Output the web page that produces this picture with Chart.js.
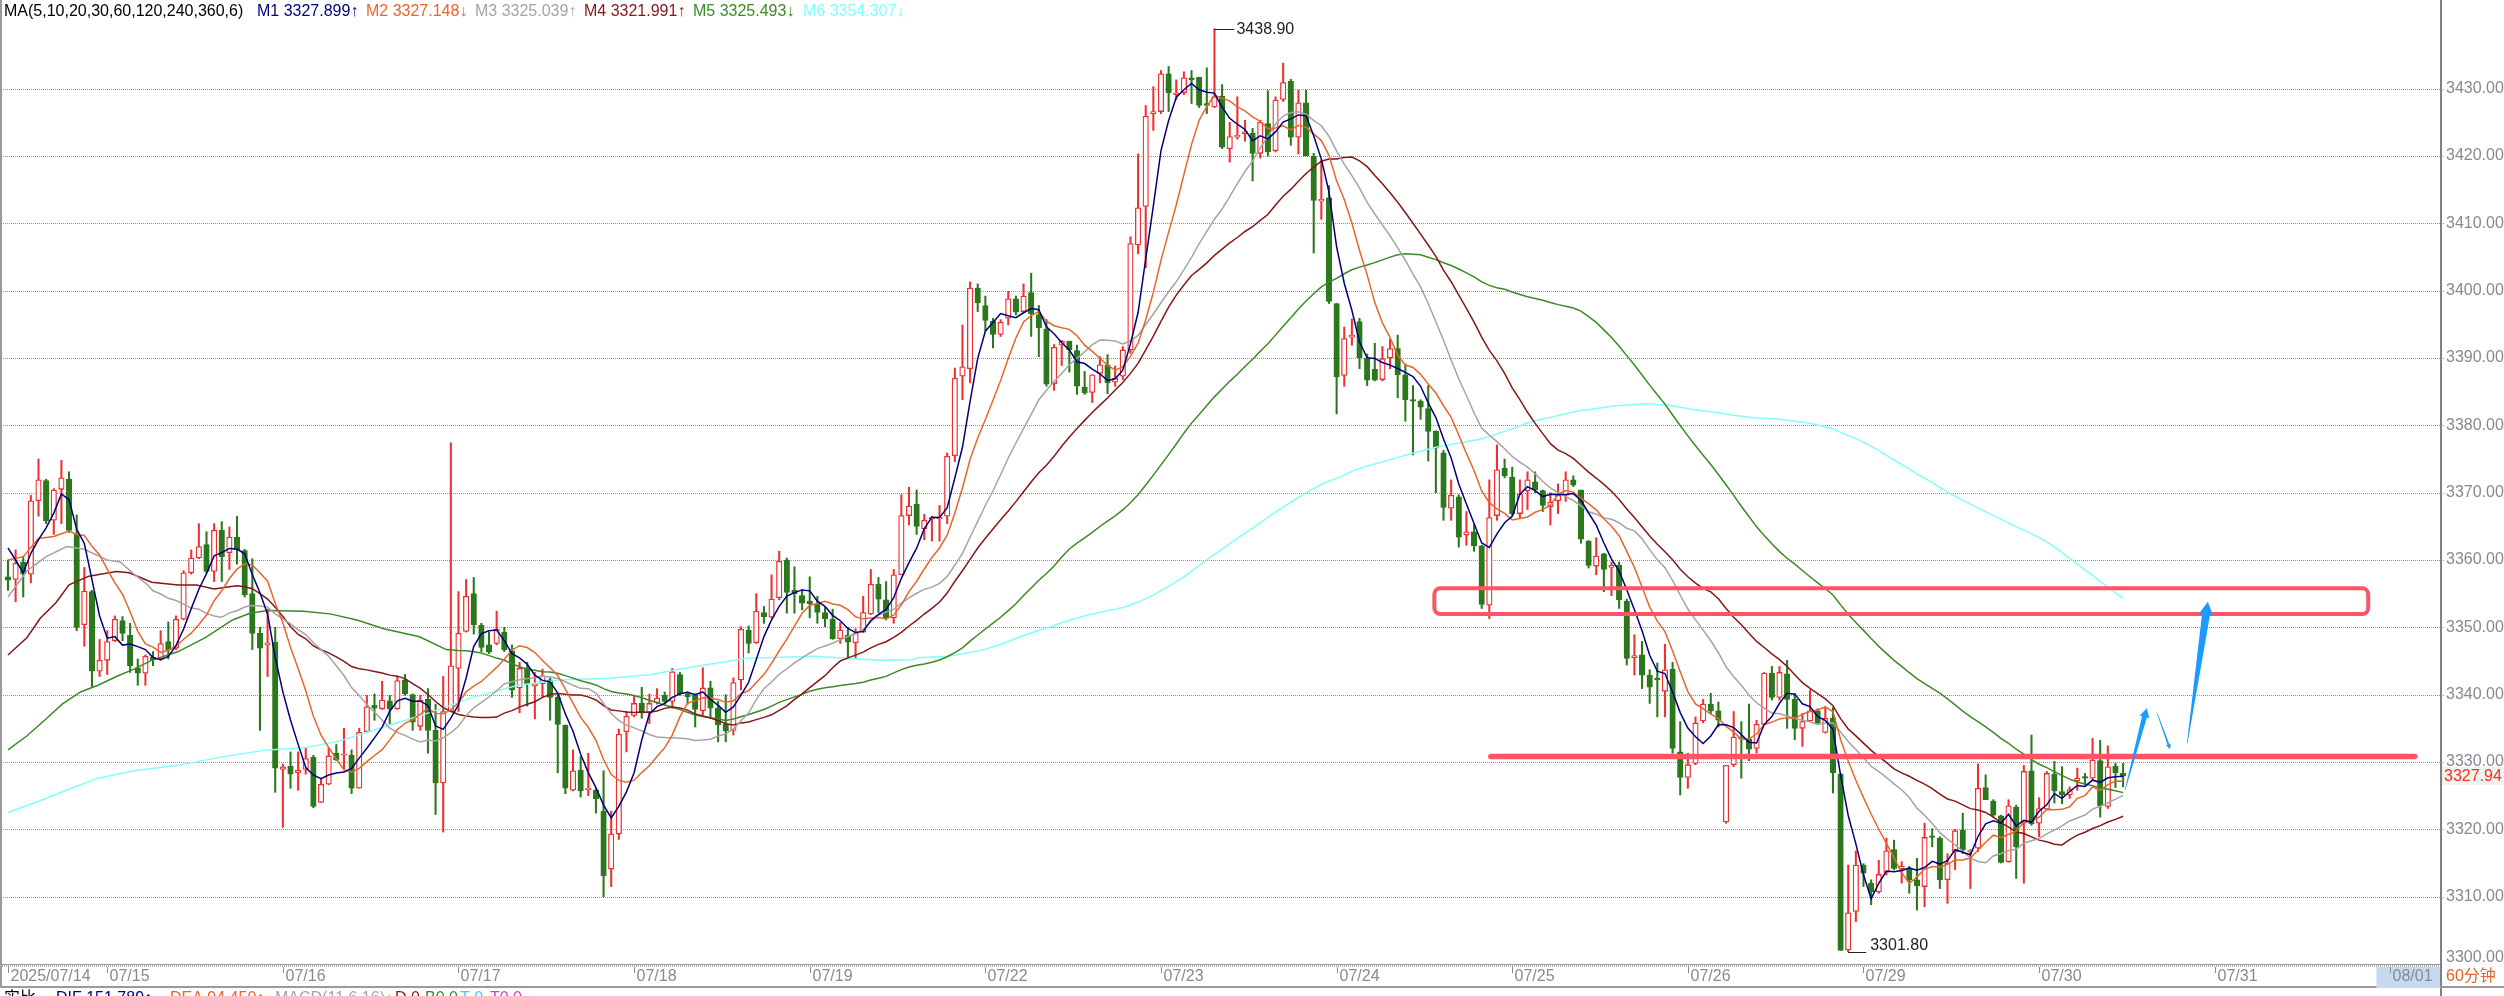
<!DOCTYPE html>
<html>
<head>
<meta charset="utf-8">
<script src="https://cdn.jsdelivr.net/npm/chart.js@4.4.1/dist/chart.umd.min.js"></script>
<style>
  html, body { margin: 0; padding: 0; background: #fff; }
  canvas { display: block; }
</style>
</head>
<body>
<canvas id="kline" width="2504" height="996"></canvas>
<script>
// 60-minute bars, 2025/07/14 .. 2025/07/30
const opens = [
  3357.5, 3357.1, 3359.7, 3357.9, 3368.8, 3371.8, 3365.9, 3370.5, 3372.0, 3363.8,
  3350.4, 3355.3, 3343.5, 3345.1, 3348.0, 3351.0, 3348.8, 3344.0, 3343.2, 3345.6,
  3345.3, 3347.9, 3346.9, 3351.2, 3358.1, 3360.3, 3362.3, 3358.3, 3364.4, 3361.1,
  3363.4, 3361.4, 3355.0, 3349.1, 3347.4, 3347.8, 3328.9, 3329.4, 3328.4, 3328.9,
  3330.7, 3324.0, 3326.7, 3331.3, 3331.0, 3331.0, 3326.1, 3334.5, 3338.4, 3337.9,
  3339.1, 3337.9, 3342.2, 3340.0, 3335.3, 3339.3, 3334.7, 3326.9, 3337.5, 3343.9,
  3349.4, 3355.0, 3350.3, 3347.4, 3347.6, 3349.3, 3346.5, 3341.0, 3344.0, 3341.3,
  3341.6, 3342.2, 3339.6, 3335.5, 3325.8, 3328.8, 3325.9, 3325.8, 3322.7, 3314.1,
  3319.3, 3334.5, 3336.9, 3338.7, 3337.4, 3338.8, 3339.9, 3339.0, 3343.0, 3340.1,
  3339.9, 3337.6, 3341.0, 3338.0, 3335.6, 3334.7, 3342.2, 3349.6, 3347.7, 3352.2,
  3351.5, 3354.4, 3360.0, 3355.5, 3354.7, 3353.9, 3353.5, 3352.2, 3351.2, 3348.3,
  3348.8, 3347.7, 3349.3, 3352.0, 3356.4, 3354.1, 3351.4, 3357.8, 3366.6, 3368.3,
  3364.6, 3366.1, 3366.1, 3366.5, 3375.5, 3387.3, 3388.4, 3400.4, 3397.8, 3395.5,
  3393.5, 3395.9, 3398.8, 3396.9, 3399.7, 3396.4, 3394.3, 3386.2, 3391.9, 3392.5,
  3391.1, 3385.7, 3384.9, 3387.7, 3389.0, 3386.4, 3387.3, 3391.2, 3406.8, 3412.5,
  3426.3, 3426.6, 3432.2, 3429.1, 3429.4, 3431.6, 3431.7, 3427.8, 3427.3, 3428.9,
  3421.1, 3422.8, 3423.3, 3423.4, 3420.4, 3424.8, 3420.8, 3428.4, 3431.1, 3422.8,
  3427.9, 3420.0, 3413.3, 3413.8, 3398.1, 3387.4, 3393.1, 3395.4, 3390.0, 3388.3,
  3386.8, 3390.0, 3391.4, 3387.5, 3383.8, 3383.6, 3382.5, 3379.1, 3375.9, 3367.7,
  3369.4, 3363.7, 3364.2, 3362.1, 3353.3, 3366.6, 3373.6, 3372.3, 3366.9, 3370.3,
  3371.6, 3370.3, 3367.9, 3368.8, 3369.6, 3371.9, 3370.4, 3362.8, 3359.1, 3360.9,
  3358.9, 3359.2, 3353.9, 3345.5, 3345.9, 3342.9, 3342.3, 3340.5, 3343.8, 3331.5,
  3327.7, 3329.8, 3336.1, 3338.6, 3337.6, 3321.1, 3329.6, 3333.5, 3333.4, 3332.0,
  3335.6, 3343.2, 3339.6, 3343.1, 3339.3, 3335.0, 3336.1, 3337.6, 3334.4, 3336.5,
  3328.2, 3302.1, 3307.8, 3314.7, 3312.0, 3310.7, 3313.6, 3317.0, 3314.1, 3314.3,
  3312.5, 3311.5, 3318.9, 3318.7, 3312.5, 3316.7, 3319.9, 3316.7, 3317.2, 3326.2,
  3324.2, 3322.0, 3315.2, 3323.3, 3320.9, 3328.7, 3320.9, 3323.0, 3328.2, 3325.6,
  3325.1, 3327.2, 3327.7, 3327.6, 3330.2, 3323.4, 3329.4, 3328.3
];
const highs = [
  3360.0, 3361.5, 3360.5, 3369.6, 3375.0, 3372.0, 3370.6, 3374.8, 3373.1, 3366.7,
  3358.9, 3355.5, 3348.2, 3349.5, 3351.7, 3351.6, 3350.6, 3345.3, 3345.9, 3346.4,
  3349.5, 3350.8, 3351.7, 3358.4, 3361.5, 3365.4, 3364.2, 3365.4, 3365.7, 3364.9,
  3366.5, 3361.6, 3360.2, 3350.0, 3352.7, 3350.0, 3329.7, 3331.5, 3331.5, 3332.1,
  3331.0, 3327.5, 3332.1, 3332.6, 3335.0, 3331.8, 3335.0, 3339.9, 3340.1, 3342.0,
  3339.9, 3342.7, 3343.0, 3340.1, 3339.9, 3340.9, 3338.6, 3342.7, 3377.4, 3355.3,
  3357.1, 3357.4, 3350.6, 3349.3, 3352.4, 3350.0, 3347.4, 3344.8, 3344.8, 3343.3,
  3343.8, 3342.5, 3339.9, 3335.5, 3331.8, 3330.8, 3331.3, 3326.1, 3328.7, 3322.7,
  3334.9, 3337.5, 3339.9, 3341.1, 3340.1, 3340.9, 3340.4, 3343.9, 3343.3, 3340.4,
  3340.1, 3344.0, 3342.0, 3339.0, 3340.0, 3342.5, 3350.1, 3350.2, 3355.0, 3353.1,
  3357.8, 3361.3, 3360.3, 3359.0, 3355.6, 3357.5, 3354.6, 3353.1, 3352.7, 3350.7,
  3350.0, 3349.8, 3354.6, 3358.6, 3357.4, 3356.8, 3358.6, 3369.7, 3370.8, 3370.4,
  3366.8, 3366.5, 3368.1, 3375.9, 3388.5, 3394.9, 3401.3, 3401.0, 3399.2, 3395.9,
  3395.7, 3399.9, 3399.2, 3401.0, 3402.6, 3397.8, 3395.7, 3392.0, 3392.6, 3392.5,
  3391.9, 3388.0, 3387.5, 3390.2, 3390.5, 3388.8, 3391.7, 3408.0, 3420.3, 3427.5,
  3430.3, 3432.7, 3433.3, 3431.3, 3432.5, 3432.7, 3431.7, 3433.1, 3438.9, 3430.6,
  3425.0, 3428.8, 3425.3, 3424.1, 3425.3, 3429.7, 3428.8, 3433.8, 3431.4, 3429.8,
  3429.8, 3420.4, 3419.4, 3415.6, 3398.1, 3394.6, 3395.8, 3395.9, 3390.6, 3392.2,
  3391.7, 3392.8, 3393.4, 3389.1, 3385.9, 3383.8, 3385.9, 3379.2, 3376.3, 3371.9,
  3369.7, 3367.2, 3365.3, 3362.2, 3371.9, 3377.1, 3375.0, 3373.8, 3371.9, 3373.1,
  3373.1, 3370.4, 3370.0, 3371.3, 3373.1, 3372.5, 3370.4, 3362.9, 3363.3, 3361.0,
  3359.7, 3359.7, 3354.2, 3348.9, 3347.9, 3343.7, 3344.7, 3347.5, 3344.8, 3336.0,
  3331.3, 3336.7, 3339.3, 3340.2, 3338.9, 3329.5, 3337.5, 3336.0, 3338.6, 3336.2,
  3343.3, 3344.2, 3344.2, 3345.1, 3340.2, 3337.2, 3340.7, 3337.9, 3338.2, 3338.1,
  3328.3, 3314.7, 3316.8, 3314.9, 3312.5, 3315.4, 3318.7, 3318.4, 3315.2, 3314.5,
  3315.7, 3320.9, 3320.1, 3318.9, 3316.4, 3320.0, 3322.4, 3317.0, 3329.7, 3328.1,
  3324.4, 3322.1, 3324.4, 3323.6, 3329.5, 3334.0, 3324.7, 3328.6, 3330.1, 3329.3,
  3326.3, 3329.1, 3328.3, 3333.5, 3333.2, 3332.4, 3329.8, 3329.8
];
const lows = [
  3355.5, 3353.8, 3354.5, 3356.6, 3366.5, 3365.4, 3363.8, 3365.4, 3364.1, 3349.5,
  3347.2, 3341.2, 3342.7, 3343.0, 3347.9, 3348.0, 3343.3, 3341.4, 3341.4, 3344.3,
  3345.1, 3345.3, 3346.7, 3351.1, 3357.9, 3360.2, 3358.1, 3356.8, 3356.8, 3358.6,
  3359.4, 3354.5, 3346.7, 3334.7, 3342.7, 3325.5, 3320.3, 3326.1, 3325.8, 3328.2,
  3323.2, 3324.0, 3326.6, 3330.2, 3329.0, 3325.3, 3326.1, 3334.4, 3336.2, 3337.8,
  3335.7, 3337.8, 3339.9, 3334.7, 3334.7, 3331.3, 3322.2, 3319.6, 3337.5, 3337.5,
  3349.3, 3349.0, 3346.4, 3346.1, 3347.4, 3346.4, 3339.6, 3337.3, 3338.3, 3336.4,
  3339.6, 3336.2, 3328.4, 3325.3, 3325.7, 3324.8, 3325.0, 3322.4, 3310.0, 3311.5,
  3318.5, 3331.5, 3336.7, 3336.5, 3335.7, 3338.6, 3338.6, 3338.0, 3339.9, 3338.6,
  3335.2, 3337.0, 3336.5, 3333.0, 3333.0, 3334.0, 3340.7, 3346.2, 3347.6, 3350.6,
  3351.4, 3354.1, 3352.1, 3352.1, 3352.6, 3351.4, 3350.6, 3350.1, 3348.2, 3347.6,
  3345.3, 3345.4, 3349.2, 3351.9, 3352.2, 3351.1, 3350.6, 3357.8, 3365.2, 3363.8,
  3363.0, 3362.8, 3362.8, 3365.4, 3374.6, 3383.8, 3386.3, 3396.9, 3394.0, 3391.5,
  3393.2, 3394.9, 3396.4, 3396.7, 3393.2, 3390.2, 3385.8, 3385.2, 3388.9, 3387.9,
  3384.6, 3384.6, 3383.4, 3386.3, 3384.7, 3385.8, 3386.8, 3390.7, 3405.5, 3403.4,
  3423.8, 3426.3, 3426.6, 3428.4, 3429.1, 3427.8, 3427.2, 3426.3, 3427.2, 3421.1,
  3419.1, 3422.5, 3422.2, 3416.3, 3419.7, 3420.0, 3420.6, 3428.1, 3421.6, 3420.3,
  3420.0, 3405.6, 3410.6, 3398.1, 3381.7, 3385.8, 3391.9, 3388.4, 3385.9, 3386.6,
  3386.6, 3388.4, 3384.1, 3380.6, 3375.6, 3380.9, 3374.7, 3370.0, 3365.9, 3365.9,
  3361.9, 3362.2, 3361.3, 3352.8, 3351.3, 3365.9, 3372.2, 3366.6, 3366.3, 3367.5,
  3370.0, 3367.2, 3365.2, 3366.9, 3368.7, 3370.9, 3362.5, 3358.8, 3357.8, 3355.3,
  3354.7, 3352.8, 3344.4, 3342.9, 3340.9, 3338.7, 3336.7, 3336.7, 3331.3, 3325.1,
  3326.1, 3329.6, 3335.8, 3337.2, 3335.2, 3320.9, 3329.3, 3327.6, 3330.2, 3331.3,
  3335.5, 3339.2, 3339.2, 3335.0, 3333.3, 3332.3, 3336.0, 3335.7, 3334.3, 3325.4,
  3302.0, 3301.8, 3306.3, 3311.5, 3308.8, 3310.5, 3313.2, 3314.0, 3312.0, 3310.5,
  3308.0, 3308.5, 3317.4, 3311.2, 3309.0, 3314.0, 3316.4, 3311.2, 3316.7, 3324.4,
  3321.9, 3315.0, 3315.1, 3312.7, 3312.0, 3320.6, 3318.9, 3322.9, 3323.9, 3323.8,
  3324.6, 3325.8, 3326.6, 3327.3, 3321.8, 3323.1, 3326.2, 3326.3
];
const closes = [
  3357.0, 3359.5, 3357.9, 3368.8, 3371.9, 3365.8, 3370.4, 3372.2, 3364.4, 3350.0,
  3355.4, 3343.5, 3345.1, 3347.9, 3351.2, 3349.1, 3344.3, 3343.2, 3345.7, 3345.2,
  3347.6, 3346.7, 3351.2, 3358.1, 3360.3, 3362.0, 3358.3, 3364.4, 3360.5, 3363.4,
  3361.5, 3354.8, 3349.1, 3346.9, 3347.7, 3329.1, 3329.3, 3328.2, 3328.8, 3330.5,
  3323.4, 3326.7, 3330.9, 3330.3, 3331.2, 3326.1, 3334.4, 3338.2, 3338.0, 3339.2,
  3337.9, 3342.1, 3340.1, 3335.9, 3339.2, 3334.7, 3326.9, 3337.5, 3344.3, 3349.1,
  3354.6, 3350.4, 3347.0, 3346.3, 3349.7, 3346.7, 3340.7, 3343.9, 3341.6, 3341.6,
  3342.8, 3339.6, 3335.6, 3326.1, 3328.7, 3325.7, 3326.0, 3324.5, 3313.1, 3319.3,
  3334.1, 3336.8, 3338.7, 3337.4, 3338.7, 3339.5, 3339.0, 3343.4, 3340.1, 3339.7,
  3337.8, 3341.0, 3338.0, 3335.5, 3334.6, 3341.8, 3349.7, 3347.6, 3352.4, 3351.6,
  3354.2, 3359.8, 3355.2, 3355.0, 3353.6, 3353.5, 3352.2, 3351.3, 3348.3, 3349.6,
  3347.8, 3349.1, 3352.2, 3356.4, 3354.2, 3351.4, 3357.8, 3366.6, 3368.0, 3365.0,
  3365.9, 3366.3, 3366.3, 3375.4, 3387.0, 3388.7, 3400.4, 3398.2, 3395.6, 3393.5,
  3395.3, 3398.8, 3396.8, 3399.2, 3396.6, 3394.5, 3386.1, 3391.6, 3392.5, 3391.2,
  3385.8, 3384.8, 3387.5, 3389.0, 3386.3, 3387.0, 3391.2, 3407.0, 3412.3, 3425.9,
  3426.6, 3432.2, 3429.4, 3429.4, 3431.6, 3431.3, 3427.5, 3427.5, 3428.8, 3421.3,
  3422.9, 3423.1, 3423.6, 3420.4, 3425.0, 3420.6, 3428.3, 3430.9, 3422.8, 3427.9,
  3420.0, 3413.4, 3413.6, 3398.4, 3387.2, 3392.9, 3393.4, 3390.0, 3386.7, 3386.7,
  3389.9, 3391.4, 3387.5, 3383.8, 3383.6, 3382.7, 3379.1, 3376.6, 3367.8, 3369.6,
  3363.4, 3364.2, 3362.1, 3353.4, 3366.3, 3373.4, 3372.5, 3366.9, 3369.8, 3371.9,
  3370.4, 3368.1, 3368.6, 3369.6, 3371.9, 3371.1, 3363.1, 3359.2, 3360.6, 3358.6,
  3359.2, 3354.1, 3345.4, 3345.8, 3342.9, 3341.1, 3342.2, 3343.7, 3332.0, 3327.7,
  3329.6, 3335.8, 3338.6, 3337.6, 3336.2, 3329.5, 3333.7, 3333.4, 3331.9, 3335.6,
  3343.2, 3339.6, 3343.3, 3339.3, 3335.0, 3336.0, 3337.6, 3335.8, 3336.5, 3328.4,
  3302.0, 3307.6, 3314.7, 3313.5, 3310.7, 3313.3, 3316.8, 3314.2, 3314.5, 3312.5,
  3311.6, 3318.8, 3318.8, 3312.5, 3315.0, 3319.8, 3316.9, 3316.9, 3326.1, 3324.4,
  3322.1, 3315.1, 3323.5, 3317.4, 3328.6, 3320.8, 3323.1, 3328.3, 3325.7, 3325.1,
  3325.9, 3327.6, 3327.6, 3330.3, 3323.5, 3329.3, 3328.4, 3327.94
];

// x-axis: bar index where each trading day starts
const dayTicks = [0, 13, 36, 59, 82, 105, 128, 151, 174, 197, 220, 243, 266, 289, 312];
const dayLabels = ['2025/07/14', '07/15', '07/16', '07/17', '07/18', '07/19', '07/22', '07/23',
                   '07/24', '07/25', '07/26', '07/29', '07/30', '07/31', '08/01'];
const priceTicks = [3300, 3310, 3320, 3330, 3340, 3350, 3360, 3370, 3380, 3390, 3400, 3410, 3420, 3430];

// start of each MA line before enough bars exist
const m1Head = [[0, 3361.8], [1, 3360.0], [2, 3358.1], [3, 3361.0]];
const m2Head = [[0, 3360.0], [2, 3360.5], [4, 3363.2], [6, 3363.5], [8, 3364.3]];
const m3Head = [[0, 3354.5], [2.5, 3358.4], [5, 3360.5], [7.7, 3362.0], [10, 3361.6], [13, 3360.0],
                [14.7, 3359.7], [16.5, 3357.9], [18.3, 3356.3]];
const m4Head = [[0, 3345.9], [2.5, 3348.5], [4.2, 3351.3], [6.3, 3353.7], [8, 3356.3], [10.6, 3357.6],
                [14.2, 3358.3], [15.9, 3358.1], [18.8, 3356.7], [22.3, 3356.3], [24.7, 3356.3], [27, 3355.7]];
const m5Head = [[0, 3331.8], [2.5, 3333.9], [4.8, 3336.2], [7.1, 3338.6], [9.5, 3340.4], [11.8, 3341.4],
                [14.2, 3342.7], [16.5, 3343.8], [18.8, 3345.1], [22.3, 3346.4], [25.9, 3348.5], [29.4, 3351.1],
                [31.7, 3352.1], [34, 3352.5], [38.7, 3352.4], [42.2, 3352.0], [45.7, 3351.1], [49.2, 3349.8],
                [53.9, 3348.6], [57.4, 3346.7]];
const m6Head = [[0, 3322.5], [4.8, 3324.5], [8.3, 3326.1], [11.8, 3327.6], [16.5, 3328.7], [22.3, 3329.5],
                [28.2, 3330.8], [34, 3331.8], [38.7, 3332.1], [43.4, 3333.1], [49.2, 3335.2], [55.1, 3337.3],
                [60.9, 3339.6], [66.8, 3341.4], [72.6, 3342.2], [78.5, 3342.4], [84.3, 3343.0], [88, 3343.8],
                [96.8, 3345.4], [105.5, 3345.7], [114.2, 3345.1], [118.6, 3345.2]];

const maLegend = [
  ['M1 3327.899\u2191', '#00007f'],
  ['M2 3327.148\u2193', '#e8662c'],
  ['M3 3325.039\u2191', '#a4a4a4'],
  ['M4 3321.991\u2191', '#871616'],
  ['M5 3325.493\u2193', '#3b8a26'],
  ['M6 3354.307\u2193', '#80ffff']
];

// drawn on top: support line, target zone, expected path
const zoneBox = {x0: 186.8, x1: 309.1, lo: 3351.98, hi: 3355.8};
const supportLine = {x0: 194.2, x1: 315.2, price: 3330.8};
const arrows = [
  {from: [277.25, 3325.8], to: [280.1, 3338.0], tail: 0.6, shaft: 5, headW: 10, headL: 9},
  {from: [281.45, 3337.3], to: [283.15, 3331.9], tail: 0.6, shaft: 2, headW: 5, headL: 5},
  {from: [285.4, 3332.8], to: [288.1, 3353.8], tail: 0.6, shaft: 8, headW: 14, headL: 13}
];

const RED = '#f0302f';
const GREEN = '#2b781c';
const ZONE = '#ff5466';
const ARROW = '#1a9bff';
const FONT = '16px "Liberation Sans", Arial, sans-serif';
const isUp = i => closes[i] >= opens[i];

function movingAvg(n, head) {
  const pts = head.map(([x, y]) => ({x, y}));
  for (let i = n - 1; i < closes.length; i++) {
    let s = 0;
    for (let k = i - n + 1; k <= i; k++) s += closes[k];
    pts.push({x: i, y: s / n});
  }
  return pts;
}

function maLine(n, head, color) {
  return {
    type: 'line', data: movingAvg(n, head), borderColor: color, borderWidth: 1.5,
    pointRadius: 0, order: 0
  };
}

const chrome = {
  id: 'chrome',
  beforeDatasetsDraw(chart) {
    const {ctx, chartArea: a, scales: {y}} = chart;
    ctx.save();
    ctx.strokeStyle = '#959595';
    ctx.lineWidth = 1;
    ctx.setLineDash([1, 1]);
    priceTicks.forEach(p => {
      if (p === 3300) return;
      const py = Math.round(y.getPixelForValue(p)) + 0.5;
      ctx.beginPath();
      ctx.moveTo(a.left, py);
      ctx.lineTo(a.right + 5, py);
      ctx.stroke();
    });
    ctx.restore();
  },
  afterDatasetsDraw(chart) {
    const {ctx, scales: {x, y}} = chart;
    ctx.save();

    // highest / lowest bar markers
    let hi = 0, lo = 0;
    highs.forEach((v, i) => { if (v > highs[hi]) hi = i; });
    lows.forEach((v, i) => { if (v < lows[lo]) lo = i; });
    ctx.font = FONT;
    ctx.strokeStyle = '#222';
    ctx.fillStyle = '#222';
    ctx.lineWidth = 1;
    let px = x.getPixelForValue(hi), py = Math.round(y.getPixelForValue(highs[hi])) + 0.5;
    ctx.beginPath(); ctx.moveTo(px, py); ctx.lineTo(px + 20, py); ctx.stroke();
    ctx.textBaseline = 'middle';
    ctx.fillText(highs[hi].toFixed(2), px + 22, py);
    px = x.getPixelForValue(lo); py = Math.round(y.getPixelForValue(lows[lo])) + 0.5;
    ctx.beginPath(); ctx.moveTo(px, py); ctx.lineTo(px + 18, py); ctx.stroke();
    ctx.textBaseline = 'alphabetic';
    ctx.fillText(lows[lo].toFixed(2), px + 22, py - 3);

    // target zone and support line
    ctx.strokeStyle = ZONE;
    ctx.lineWidth = 4;
    const bx0 = x.getPixelForValue(zoneBox.x0), bx1 = x.getPixelForValue(zoneBox.x1);
    const by0 = y.getPixelForValue(zoneBox.hi), by1 = y.getPixelForValue(zoneBox.lo);
    ctx.beginPath();
    ctx.roundRect(bx0, by0, bx1 - bx0, by1 - by0, 6);
    ctx.stroke();
    ctx.lineWidth = 5.5;
    ctx.lineCap = 'round';
    const sy = y.getPixelForValue(supportLine.price);
    ctx.beginPath();
    ctx.moveTo(x.getPixelForValue(supportLine.x0), sy);
    ctx.lineTo(x.getPixelForValue(supportLine.x1), sy);
    ctx.stroke();

    // tapered arrows
    ctx.fillStyle = ARROW;
    arrows.forEach(ar => {
      const x0 = x.getPixelForValue(ar.from[0]), y0 = y.getPixelForValue(ar.from[1]);
      const x1 = x.getPixelForValue(ar.to[0]), y1 = y.getPixelForValue(ar.to[1]);
      const len = Math.hypot(x1 - x0, y1 - y0);
      const ux = (x1 - x0) / len, uy = (y1 - y0) / len;
      const nx = -uy, ny = ux;
      const bx = x1 - ux * ar.headL, byy = y1 - uy * ar.headL;
      ctx.beginPath();
      ctx.moveTo(x0 + nx * ar.tail / 2, y0 + ny * ar.tail / 2);
      ctx.lineTo(bx + nx * ar.shaft / 2, byy + ny * ar.shaft / 2);
      ctx.lineTo(bx + nx * ar.headW / 2, byy + ny * ar.headW / 2);
      ctx.lineTo(x1, y1);
      ctx.lineTo(bx - nx * ar.headW / 2, byy - ny * ar.headW / 2);
      ctx.lineTo(bx - nx * ar.shaft / 2, byy - ny * ar.shaft / 2);
      ctx.lineTo(x0 - nx * ar.tail / 2, y0 - ny * ar.tail / 2);
      ctx.closePath();
      ctx.fill();
    });
    ctx.restore();
  },
  afterDraw(chart) {
    const {ctx, chartArea: a, scales: {x, y}} = chart;
    const W = chart.width;
    ctx.save();
    ctx.font = FONT;

    // frame
    ctx.fillStyle = '#9a9a9a';
    ctx.fillRect(0, 0, 2, 988);
    ctx.fillStyle = '#808080';
    ctx.fillRect(a.right, 0, 2, chart.height);
    ctx.fillStyle = '#9a9a9a';
    ctx.fillRect(0, a.bottom, a.right, 1);
    ctx.strokeStyle = '#b0b0b0';
    ctx.setLineDash([1, 1]);
    ctx.lineWidth = 2;
    ctx.beginPath(); ctx.moveTo(0, a.bottom + 2); ctx.lineTo(a.right, a.bottom + 2); ctx.stroke();
    ctx.setLineDash([]);
    ctx.fillStyle = '#9a9a9a';
    ctx.fillRect(0, 986, W, 2);

    // price axis
    ctx.textBaseline = 'middle';
    ctx.textAlign = 'left';
    ctx.fillStyle = '#868994';
    priceTicks.forEach(p => {
      const py = y.getPixelForValue(p);
      ctx.fillText(p.toFixed(2), a.right + 6, p === 3300 ? py - 6 : py);
    });
    const last = closes[closes.length - 1];
    const ly = y.getPixelForValue(last);
    ctx.fillStyle = '#eef3ee';
    ctx.fillRect(a.right + 2, ly - 9, W - a.right - 2, 18);
    ctx.fillStyle = '#ff2a2a';
    ctx.fillText(last.toFixed(2), a.right + 4, ly + 1);

    // time axis
    const t8 = x.getPixelForValue(dayTicks[dayTicks.length - 1]);
    ctx.fillStyle = '#c6d9f1';
    ctx.fillRect(t8 - 14, a.bottom + 3, a.right - t8 + 14, 21);
    ctx.strokeStyle = '#8a8a8a';
    ctx.lineWidth = 1;
    dayTicks.forEach((d, k) => {
      const tx = Math.round(x.getPixelForValue(d)) + 0.5;
      ctx.beginPath(); ctx.moveTo(tx, a.bottom + 3); ctx.lineTo(tx, a.bottom + 9); ctx.stroke();
      ctx.fillStyle = '#8a8a8a';
      ctx.fillText(dayLabels[k], tx + 2, a.bottom + 13);
    });
    ctx.fillStyle = '#e0662a';
    ctx.font = '16px "Liberation Sans", "Noto Sans CJK SC", sans-serif';
    ctx.fillText('60分钟', a.right + 6, a.bottom + 13);

    // MA legend
    ctx.font = FONT;
    ctx.fillStyle = '#000';
    ctx.fillText('MA(5,10,20,30,60,120,240,360,6)', 4, 12);
    const legX = [257, 366, 475, 584, 693, 803];
    maLegend.forEach(([t, c], k) => {
      ctx.fillStyle = c;
      ctx.fillText(t, legX[k], 12);
    });

    // next indicator pane, cut off at the bottom edge
    ctx.textBaseline = 'top';
    ctx.font = '16px "Liberation Sans", "Noto Sans CJK SC", sans-serif';
    const sub = [['\u5b9e\u6bd4', '#000', 4], ['DIF 151.789\u2191', '#00007f', 56], ['DEA 94.450\u2191', '#e8662c', 170],
                 ['MACD(11,6,16)\u2193', '#a4a4a4', 275], ['D 0', '#871616', 395], ['B0 0', '#3b8a26', 425],
                 ['T 0', '#40d0f0', 460], ['T0 0', '#d040d0', 490]];
    sub.forEach(([t, c, sx]) => { ctx.fillStyle = c; ctx.fillText(t, sx, 991); });
    ctx.restore();
  }
};

new Chart(document.getElementById('kline'), {
  type: 'bar',
  data: {
    datasets: [
      maLine(5, m1Head, '#00007f'),
      maLine(10, m2Head, '#e8662c'),
      maLine(20, m3Head, '#a4a4a4'),
      maLine(30, m4Head, '#871616'),
      maLine(60, m5Head, '#3b8a26'),
      maLine(120, m6Head, '#80ffff'),
      {
        type: 'bar',
        data: opens.map((o, i) => ({x: i, y: [o, closes[i]]})),
        backgroundColor: c => isUp(c.dataIndex) ? '#ffffff' : GREEN,
        borderColor: c => isUp(c.dataIndex) ? RED : GREEN,
        borderWidth: 1.3,
        borderSkipped: false,
        barThickness: 5.5,
        minBarLength: 1.5,
        grouped: false,
        order: 1
      },
      {
        type: 'bar',
        data: lows.map((l, i) => ({x: i, y: [l, highs[i]]})),
        backgroundColor: c => isUp(c.dataIndex) ? RED : GREEN,
        borderWidth: 0,
        barThickness: 1.4,
        grouped: false,
        order: 2
      }
    ]
  },
  options: {
    responsive: false,
    animation: false,
    events: [],
    layout: { padding: { left: 3, right: 64, top: 0, bottom: 32 } },
    scales: {
      x: { type: 'linear', min: -0.65, max: 318.5, offset: false, display: false },
      y: { min: 3300, max: 3443.17, display: false }
    },
    plugins: {
      legend: { display: false },
      tooltip: { enabled: false }
    }
  },
  plugins: [chrome]
});
</script>
</body>
</html>
